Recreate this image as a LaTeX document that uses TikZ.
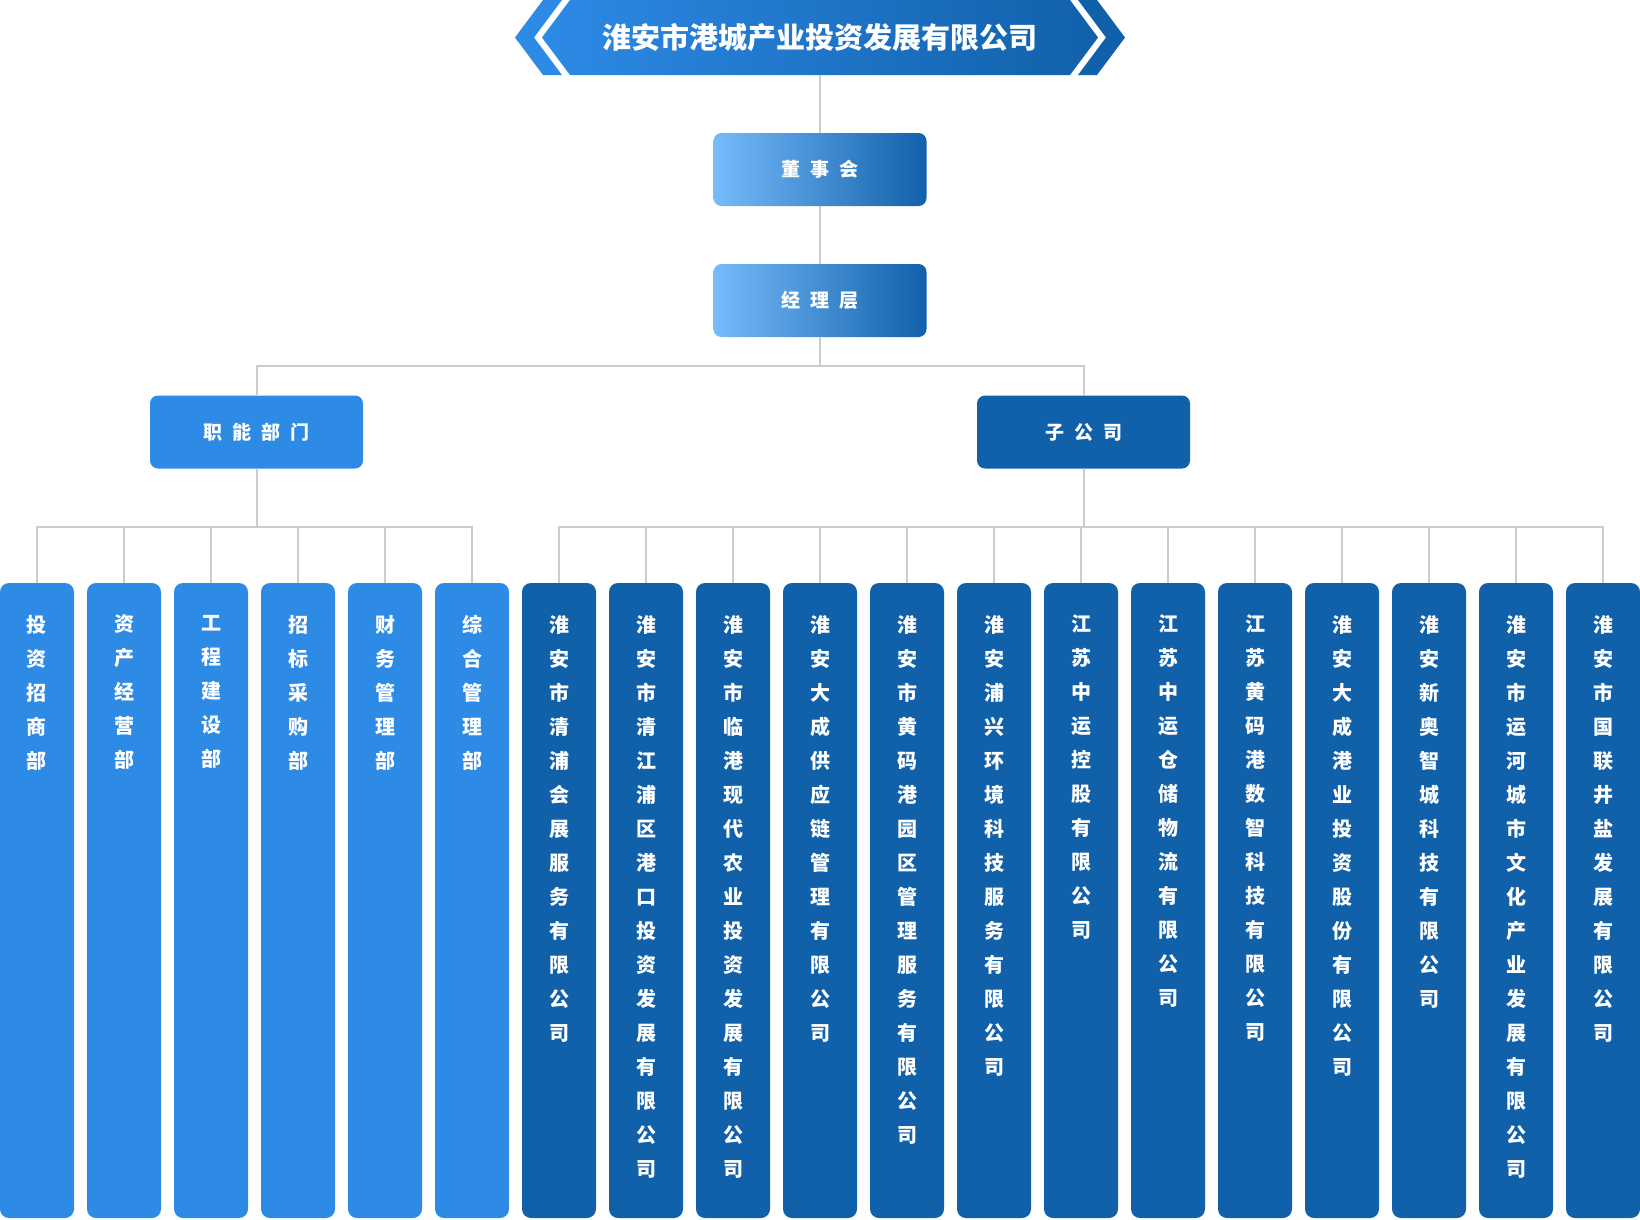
\documentclass[tikz,border=0pt]{standalone}
\usepackage{fontspec}
\newfontfamily\cjk{Noto Sans CJK SC}
\definecolor{lightb}{HTML}{2D8AE5}
\definecolor{darkb}{HTML}{1160AA}
\definecolor{gradl}{HTML}{76BBFA}
\definecolor{linec}{HTML}{CCCCCC}
\def\vstEnd{}
\def\vst#1{\vstA#1\vstEnd}
\def\vstA#1{#1\vstB}
\def\vstB#1{\ifx#1\vstEnd\else\\#1\expandafter\vstB\fi}
\def\sp{\hspace{10pt}}
\tikzset{
  gbox/.style={rounded corners=8pt, minimum width=213pt, minimum height=73pt, inner sep=0pt,
    left color=gradl, right color=darkb, text=white, font=\cjk\bfseries\fontsize{19}{21}\selectfont},
  ubox/.style={rounded corners=8pt, minimum width=213pt, minimum height=73pt, inner sep=0pt,
    text=white, font=\cjk\bfseries\fontsize{19}{21}\selectfont},
  colbox/.style={rounded corners=9pt, minimum width=74pt, minimum height=635pt, inner sep=0pt},
  coltext/.style={text=white, font=\cjk\bfseries\fontsize{20}{34}\selectfont, align=center, inner sep=0pt, anchor=north},
  conn/.style={draw=linec, line width=2pt}
}
\begin{document}
\begin{tikzpicture}[x=1pt,y=-1pt]
\useasboundingbox[fill=white] (0,0) rectangle (1640,1219);
% banner
\fill[lightb] (543,0) -- (515,37.5) -- (543,75) -- (562,75) -- (534,37.5) -- (562,0) -- cycle;
\fill[darkb] (1097,0) -- (1125,37.5) -- (1097,75) -- (1078,75) -- (1106,37.5) -- (1078,0) -- cycle;
\shade[left color=lightb, right color=darkb] (570,0) -- (542,37.5) -- (570,75) -- (1070,75) -- (1098,37.5) -- (1070,0) -- cycle;
\node[text=white, font=\cjk\bfseries\fontsize{29}{31}\selectfont, inner sep=0pt] (title) at (820,37.5) {淮安市港城产业投资发展有限公司};
\coordinate (ttl) at (820,75);
% boxes
\node[gbox] (board) at (820,169.5) {董\sp 事\sp 会};
\node[gbox] (mgr) at (820,300.5) {经\sp 理\sp 层};
\node[ubox, fill=lightb] (func) at (256.5,432) {职\sp 能\sp 部\sp 门};
\node[ubox, fill=darkb] (sub) at (1083.5,432) {子\sp 公\sp 司};
\draw[conn] (ttl) -- (board.north);
\draw[conn] (board.south) -- (mgr.north);
\draw[conn] (mgr.south) -- ++(0,29) -| (func.north);
\draw[conn] (mgr.south) -- ++(0,29) -| (sub.north);
% columns
\foreach \t [count=\i from 0] in {投资招商部,资产经营部,工程建设部,招标采购部,财务管理部,综合管理部,
  淮安市清浦会展服务有限公司,淮安市清江浦区港口投资发展有限公司,淮安市临港现代农业投资发展有限公司,
  淮安大成供应链管理有限公司,淮安市黄码港园区管理服务有限公司,淮安浦兴环境科技服务有限公司,
  江苏中运控股有限公司,江苏中运仓储物流有限公司,江苏黄码港数智科技有限公司,淮安大成港业投资股份有限公司,
  淮安新奥智城科技有限公司,淮安市运河城市文化产业发展有限公司,淮安市国联井盐发展有限公司}{
  \ifnum\i<6 \def\cc{lightb}\else\def\cc{darkb}\fi
  \node[colbox, fill=\cc] (c\i) at ({37+87*\i},900.5) {};
  \node[coltext] (t\i) at ([yshift=-32pt]c\i.north) {\expandafter\vst\expandafter{\t}};
}
\foreach \i in {0,...,5} \draw[conn] (func.south) -- ++(0,58) -| (c\i.north);
\foreach \i in {6,...,18} \draw[conn] (sub.south) -- ++(0,58) -| (c\i.north);
\end{tikzpicture}
\end{document}
